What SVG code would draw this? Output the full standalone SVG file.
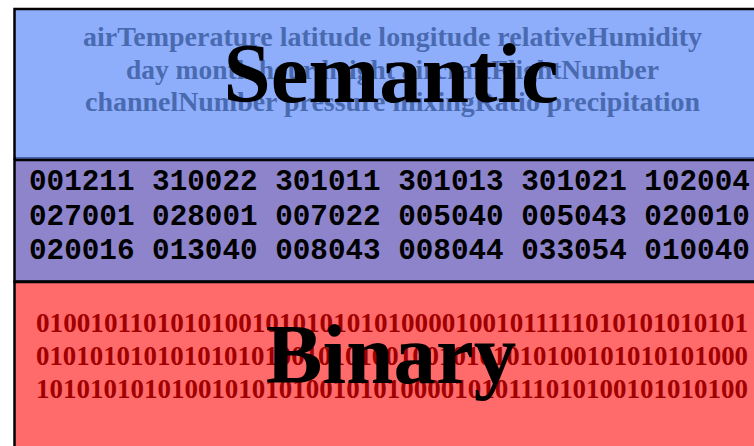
<svg xmlns="http://www.w3.org/2000/svg" width="754" height="446" viewBox="0 0 754 446">
<style>
.sem{font-family:"Liberation Serif","Times New Roman",serif;font-weight:bold;font-size:27px;fill:#4a6ab0;text-anchor:middle}
.code{font-family:"Liberation Mono","Courier New",monospace;font-weight:bold;font-size:29.3px;fill:#000}
.bin{font-family:"Liberation Serif","Times New Roman",serif;font-weight:bold;font-size:27px;fill:#a00000;text-anchor:middle}
.big{font-family:"Liberation Serif","Times New Roman",serif;font-weight:bold;font-size:85px;fill:#000;text-anchor:middle}
</style>
<rect x="0" y="0" width="754" height="446" fill="#ffffff"/>
<g id="semantic">
<rect x="14.5" y="9" width="760" height="149.5" fill="#8eaefc" stroke="#000" stroke-width="2.5"/>
<line x1="16" y1="158.5" x2="754" y2="158.5" stroke="#4a64a8" stroke-width="3"/>
<text class="sem" x="392.5" y="46" textLength="619" lengthAdjust="spacingAndGlyphs">airTemperature latitude longitude relativeHumidity</text>
<text class="sem" x="392.5" y="78.5" textLength="533" lengthAdjust="spacingAndGlyphs">day month hour height aircraftFlightNumber</text>
<text class="sem" x="392.5" y="111" textLength="615" lengthAdjust="spacingAndGlyphs">channelNumber pressure mixingRatio precipitation</text>
<text class="big" x="391" y="102">Semantic</text>
</g>
<g id="descriptors">
<rect x="14.5" y="160" width="760" height="121.5" fill="#8d84cc" stroke="#000" stroke-width="2.5"/>
<text class="code" x="29" y="190">001211 310022 301011 301013 301021 102004</text>
<text class="code" x="29" y="224.5">027001 028001 007022 005040 005043 020010</text>
<text class="code" x="29" y="259">020016 013040 008043 008044 033054 010040</text>
</g>
<g id="binary">
<rect x="14.5" y="282" width="760" height="180" fill="#ff6a6a" stroke="#000" stroke-width="2.5"/>
<text class="bin" x="392" y="332" textLength="712" lengthAdjust="spacingAndGlyphs">01001011010101001010101010100001001011111010101010101</text>
<text class="bin" x="392" y="365" textLength="712" lengthAdjust="spacingAndGlyphs">01010101010101010100101010010010101010100101010101000</text>
<text class="bin" x="392" y="398" textLength="712" lengthAdjust="spacingAndGlyphs">10101010101001010101001010100001010111010100101010100</text>
<text class="big" x="391" y="383">Binary</text>
</g>
<g id="connectors"/>
</svg>
